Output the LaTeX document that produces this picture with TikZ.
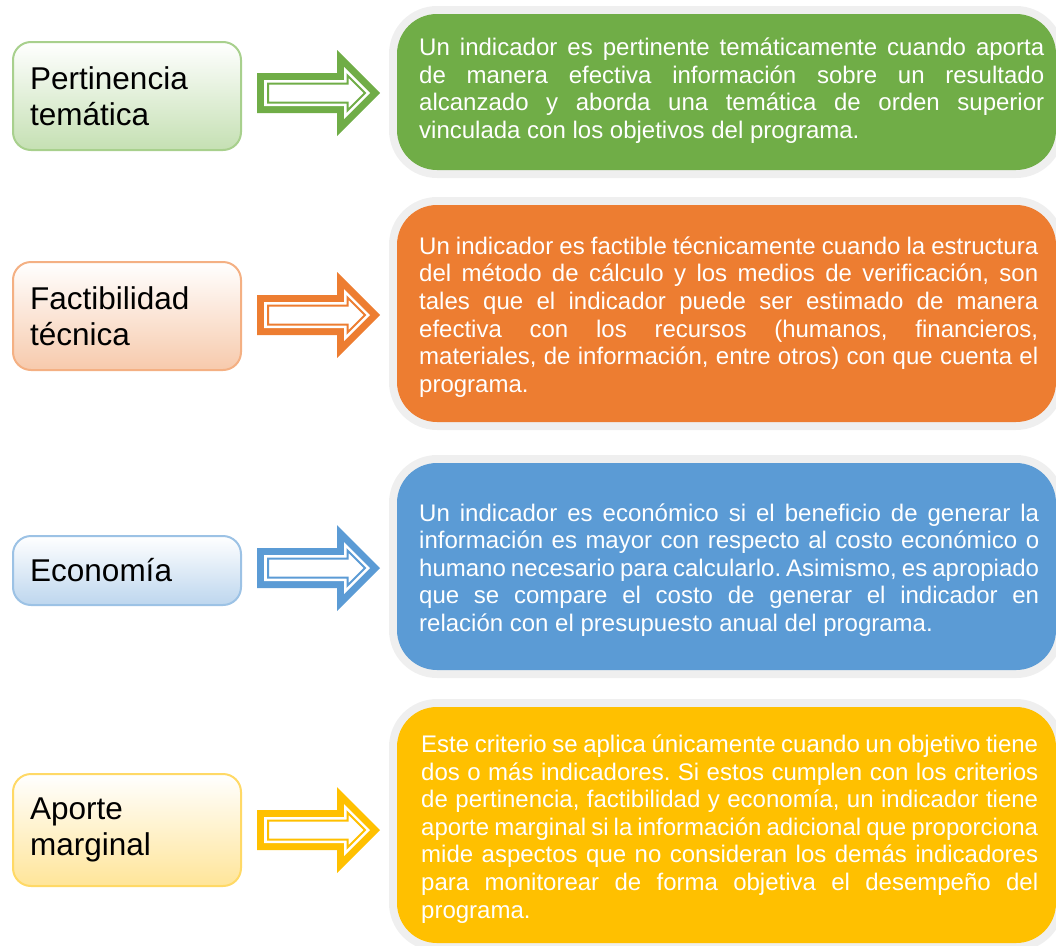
\documentclass[tikz,border=0pt]{standalone}
\usepackage{fontspec}
\setmainfont{Liberation Sans}
\frenchspacing
\definecolor{cG}{HTML}{70AD47}
\definecolor{cO}{HTML}{ED7D31}
\definecolor{cB}{HTML}{5B9BD5}
\definecolor{cY}{HTML}{FFC000}
\definecolor{cGl}{HTML}{C5E0B3}
\definecolor{cOl}{HTML}{F7CAAC}
\definecolor{cBl}{HTML}{BDD6EE}
\definecolor{cYl}{HTML}{FFE599}
\definecolor{cGb}{HTML}{A8D08D}
\definecolor{cOb}{HTML}{F4B083}
\definecolor{cBb}{HTML}{9CC2E5}
\definecolor{cYb}{HTML}{FFD966}
\definecolor{frame}{HTML}{EFEFEF}
\newcommand\jline[2]{\makebox[#1][s]{#2}}
\newcommand\blockarr[2]{%
  \begin{scope}[shift={(257,#1)}]
    \fill[#2] (0,-20) -- (80,-20) -- (80,-43) -- (123,0) -- (80,43) -- (80,20) -- (0,20) -- cycle;
    \fill[white] (7,-13) -- (87,-13) -- (87,-26) -- (113,0) -- (87,26) -- (87,13) -- (7,13) -- cycle;
    \draw[#2, line width=2pt, fill=white, line join=miter] (11,-9.5) -- (90.5,-9.5) -- (90.5,-17.5) -- (108,0) -- (90.5,17.5) -- (90.5,9.5) -- (11,9.5) -- cycle;
  \end{scope}}
\newcommand\rbox[3]{% top, bottom, color
  \fill[frame, rounded corners=48pt] (389,#1-8) rectangle (1064,#2+8);
  \fill[#3, rounded corners=40pt] (397,#1) rectangle (1056,#2);}
\tikzset{
  lbox/.style={draw, line width=2pt, rounded corners=18pt, minimum width=228pt, anchor=north west, inner sep=0pt},
  ltext/.style={anchor=west, align=left, inner sep=0pt, text=black, font=\fontsize{31.5}{35.7}\selectfont},
  rtext/.style={anchor=west, align=left, inner sep=0pt, text=white, font=\fontsize{24}{27.6}\selectfont}
}
\begin{document}
\begin{tikzpicture}[x=1pt, y=-1pt]
\useasboundingbox (0,0) rectangle (1056,945);
\begin{scope}
\clip (0,0) rectangle (1056,945);
\rbox{14}{170}{cG}
\rbox{205}{422}{cO}
\rbox{463}{670}{cB}
\rbox{707}{943}{cY}
\end{scope}

% left boxes
\node[lbox, draw=cGb, top color=white, bottom color=cGl, minimum height=108pt] (b1) at (12,41) {};
\node[lbox, draw=cOb, top color=white, bottom color=cOl, minimum height=108pt] (b2) at (12,261) {};
\node[lbox, draw=cBb, top color=white, bottom color=cBl, minimum height=69pt] (b3) at (12,535) {};
\node[lbox, draw=cYb, top color=white, bottom color=cYl, minimum height=112pt] (b4) at (12,773) {};

\node[ltext] (l1) at ([xshift=18pt]b1.west) {Pertinencia\\temática};
\node[ltext] (l2) at ([xshift=18pt]b2.west) {Factibilidad\\técnica};
\node[ltext] (l3) at ([xshift=18pt]b3.west) {Economía};
\node[ltext] (l4) at ([xshift=18pt]b4.west) {Aporte\\marginal};

% arrows
\blockarr{93}{cG}
\blockarr{315}{cO}
\blockarr{568}{cB}
\blockarr{830}{cY}

% right texts
\node[rtext] (r1) at (419,90.5) {%
\jline{625pt}{Un indicador es pertinente temáticamente cuando aporta}\\
\jline{625pt}{de manera efectiva información sobre un resultado}\\
\jline{625pt}{alcanzado y aborda una temática de orden superior}\\
vinculada con los objetivos del programa.};
\node[rtext] (r2) at (419,317) {%
\jline{619pt}{Un indicador es factible técnicamente cuando la estructura}\\
\jline{619pt}{del método de cálculo y los medios de verificación, son}\\
\jline{619pt}{tales que el indicador puede ser estimado de manera}\\
\jline{619pt}{efectiva con los recursos (humanos, financieros,}\\
\jline{619pt}{materiales, de información, entre otros) con que cuenta el}\\
programa.};
\node[rtext] (r3) at (419,570) {%
\jline{620pt}{Un indicador es económico si el beneficio de generar la}\\
\jline{620pt}{información es mayor con respecto al costo económico o}\\
\jline{620pt}{humano necesario para calcularlo. Asimismo, es apropiado}\\
\jline{620pt}{que se compare el costo de generar el indicador en}\\
relación con el presupuesto anual del programa.};
\node[rtext] (r4) at (421,829) {%
\jline{617pt}{Este criterio se aplica únicamente cuando un objetivo tiene}\\
\jline{617pt}{dos o más indicadores. Si estos cumplen con los criterios}\\
\jline{617pt}{de pertinencia, factibilidad y economía, un indicador tiene}\\
\jline{617pt}{aporte marginal si la información adicional que proporciona}\\
\jline{617pt}{mide aspectos que no consideran los demás indicadores}\\
\jline{617pt}{para monitorear de forma objetiva el desempeño del}\\
programa.};
\end{tikzpicture}
\end{document}
